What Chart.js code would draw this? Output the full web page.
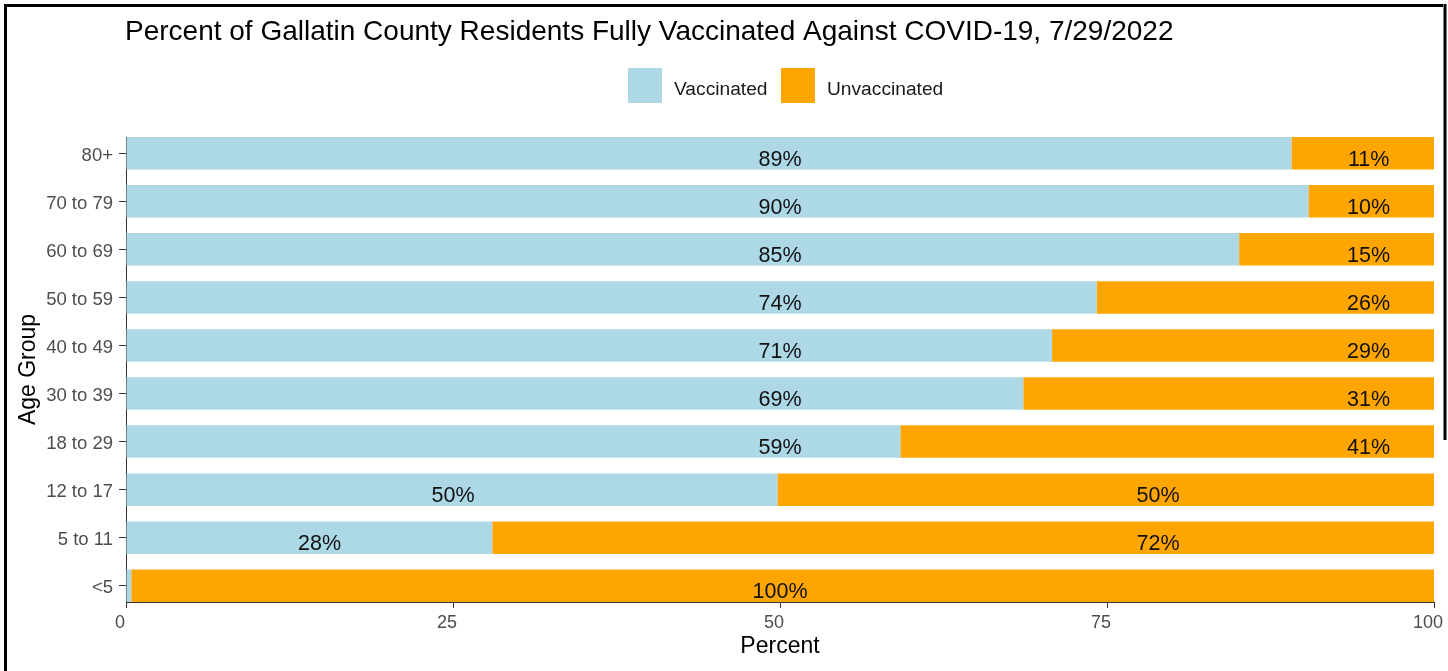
<!DOCTYPE html>
<html><head><meta charset="utf-8">
<script src="https://cdn.jsdelivr.net/npm/chart.js@4.4.1/dist/chart.umd.min.js"></script>
<style>html,body{margin:0;padding:0;background:#fff;} canvas{display:block;}</style>
</head><body>
<canvas id="c" width="1448" height="671"></canvas>
<script>
// ---- data ----
const categories = ['80+','70 to 79','60 to 69','50 to 59','40 to 49','30 to 39','18 to 29','12 to 17','5 to 11','<5'];
const vaccinated   = [89.1, 90.4, 85.1, 74.2, 70.8, 68.6, 59.2, 49.8, 28.0, 0.4];
const unvaccinated = [10.9,  9.6, 14.9, 25.8, 29.2, 31.4, 40.8, 50.2, 72.0, 99.6];
const vaccinatedLabels   = ['89%','90%','85%','74%','71%','69%','59%','50%','28%',''];
const unvaccinatedLabels = ['11%','10%','15%','26%','29%','31%','41%','50%','72%','100%'];
// where each label sits, in percent units along the x axis
const vaccinatedLabelAt   = [50, 50, 50, 50, 50, 50, 50, 25, 14.8, null];
const unvaccinatedLabelAt = [95, 95, 95, 95, 95, 95, 95, 78.9, 78.9, 50];
const xTicks = [0, 25, 50, 75, 100];
const seriesNames = ['Vaccinated', 'Unvaccinated'];
const titleText = 'Percent of Gallatin County Residents Fully Vaccinated Against COVID-19, 7/29/2022';

const FONT = '"Liberation Sans", Arial, Helvetica, sans-serif';
const COLORS = ['#ADD8E6', '#FFA500'];
Chart.defaults.font.family = FONT;

const decor = {
  id: 'decor',
  afterDatasetsDraw(chart) {
    const {ctx, scales: {x, y}} = chart;
    ctx.save();
    ctx.font = '21.5px ' + FONT;
    ctx.fillStyle = '#111';
    ctx.textAlign = 'center';
    ctx.textBaseline = 'alphabetic';
    categories.forEach((c, i) => {
      const yc = y.getPixelForValue(i + 1) + 12.5;
      if (vaccinatedLabelAt[i] !== null && vaccinatedLabels[i]) {
        ctx.fillText(vaccinatedLabels[i], x.getPixelForValue(vaccinatedLabelAt[i]), yc);
      }
      if (unvaccinatedLabelAt[i] !== null && unvaccinatedLabels[i]) {
        ctx.fillText(unvaccinatedLabels[i], x.getPixelForValue(unvaccinatedLabelAt[i]), yc);
      }
    });
    ctx.restore();
  },
  afterDraw(chart) {
    const ctx = chart.ctx;
    ctx.save();
    // title
    ctx.font = '28px ' + FONT;
    ctx.fillStyle = '#000';
    ctx.textAlign = 'left';
    ctx.textBaseline = 'alphabetic';
    ctx.fillText(titleText, 125, 40);
    // legend
    const boxes = [628, 781];
    const texts = [674, 827];
    ctx.font = '19.2px ' + FONT;
    seriesNames.forEach((n, i) => {
      ctx.fillStyle = COLORS[i];
      ctx.fillRect(boxes[i], 68, 34, 35);
      ctx.fillStyle = '#1a1a1a';
      ctx.fillText(n, texts[i], 95);
    });
    // frame
    ctx.fillStyle = '#000';
    ctx.fillRect(4, 4, 3, 671 - 4);
    ctx.fillRect(4, 4, 1443 - 4, 3);
    ctx.fillRect(1443.5, 4, 3, 436);
    ctx.restore();
  }
};

new Chart(document.getElementById('c'), {
  type: 'bar',
  data: {
    datasets: [
      {label: seriesNames[0], data: vaccinated.map((v, i) => ({x: v, y: i + 1})), backgroundColor: COLORS[0], borderWidth: 0,
       barPercentage: 0.675, categoryPercentage: 1.0},
      {label: seriesNames[1], data: unvaccinated.map((v, i) => ({x: v, y: i + 1})), backgroundColor: COLORS[1], borderWidth: 0,
       barPercentage: 0.675, categoryPercentage: 1.0}
    ]
  },
  options: {
    indexAxis: 'y',
    responsive: false,
    animation: false,
    events: [],
    layout: {padding: {left: 0, right: 14, top: 137, bottom: 0}, autoPadding: false},
    plugins: {legend: {display: false}, tooltip: {enabled: false}, title: {display: false}},
    scales: {
      x: {
        type: 'linear', stacked: true, min: 0, max: 100, z: 1, offset: false,
        afterBuildTicks: (axis) => { axis.ticks = xTicks.map(v => ({value: v})); },
        afterFit: (s) => { s.height = 69; s.paddingLeft = 0; s.paddingRight = 0; },
        grid: {drawOnChartArea: false, drawTicks: true, tickLength: 6, tickColor: '#333', tickWidth: 1, offset: false},
        border: {display: true, color: '#333', width: 1},
        ticks: {font: {size: 18}, color: '#4d4d4d', padding: 4, labelOffset: -6, maxRotation: 0, autoSkip: false},
        title: {display: true, text: 'Percent', color: '#000', font: {size: 23, lineHeight: 1.2}, padding: {top: 0, bottom: 11}}
      },
      y: {
        type: 'linear', stacked: true, reverse: true, min: 0.6625, max: 10.3375, z: 1, offset: false,
        afterBuildTicks: (axis) => { axis.ticks = categories.map((c, i) => ({value: i + 1})); },
        afterFit: (s) => { s.width = 126; s.paddingTop = 0; s.paddingBottom = 0; },
        grid: {drawOnChartArea: false, drawTicks: true, tickLength: 7, tickColor: '#333', tickWidth: 1, offset: false},
        border: {display: true, color: '#333', width: 1},
        ticks: {font: {size: 18.5}, color: '#4d4d4d', padding: 6, labelOffset: 2.5, autoSkip: false,
                callback: (v) => categories[Math.round(v) - 1]},
        title: {display: true, text: 'Age Group', color: '#000', font: {size: 23, lineHeight: 1.2}, padding: {top: 14.5, bottom: 0}}
      }
    }
  },
  plugins: [decor]
});
</script>
</body></html>
